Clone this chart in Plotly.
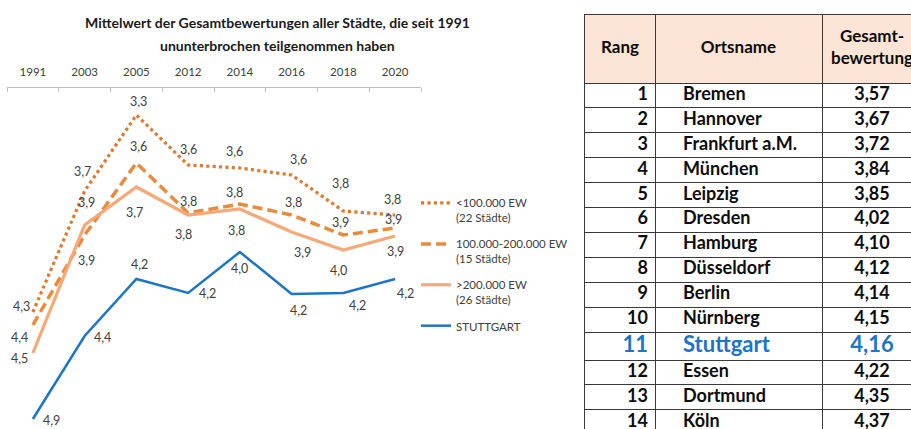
import plotly.graph_objects as go

# ---------------- data ----------------
years = ["1991", "2003", "2005", "2012", "2014", "2016", "2018", "2020"]
small_cities = [4.325, 3.72, 3.34, 3.59, 3.605, 3.64, 3.82, 3.84]
medium_cities = [4.39, 3.94, 3.58, 3.83, 3.785, 3.84, 3.94, 3.905]
large_cities = [4.53, 3.89, 3.70, 3.84, 3.81, 3.925, 4.015, 3.945]
stuttgart = [4.86, 4.445, 4.16, 4.23, 4.025, 4.235, 4.23, 4.16]

series_names = [
    "&lt;100.000 EW<br>(22 Städte)",
    "100.000-200.000 EW<br>(15 Städte)",
    "&gt;200.000 EW<br>(26 Städte)",
    "STUTTGART",
]

title_lines = [
    "Mittelwert der Gesamtbewertungen aller Städte, die seit 1991",
    "ununterbrochen teilgenommen haben",
]

ranks = list(range(1, 15))
cities = ["Bremen", "Hannover", "Frankfurt a.M.", "München", "Leipzig", "Dresden",
          "Hamburg", "Düsseldorf", "Berlin", "Nürnberg", "Stuttgart", "Essen",
          "Dortmund", "Köln"]
scores = [3.57, 3.67, 3.72, 3.84, 3.85, 4.02, 4.10, 4.12, 4.14, 4.15, 4.16,
          4.22, 4.35, 4.37]
highlight_city = "Stuttgart"
table_headers = ["Rang", "Ortsname", "Gesamt-<br>bewertung"]

# ---------------- styling ----------------
W, H = 911, 429
FONT = "Lato"
TXT = "#404040"
c_small = "#E0792E"
c_medium = "#E98B3E"
c_large = "#F6A878"
c_stg = "#1C75C8"
GRID = "#3a3a3a"

TABLE_LEFT, TABLE_TOP = 585, 15
COL_W = [70, 167, 100]
HEADER_H, ROW_H, HILITE_H = 68, 24.9, 28

# data-label offsets in pixels (dx, dy; dy positive = down), per point
off_small = [(-11, -6), (-2, -19), (2, -13), (0, -15), (-5, -16), (7, -15), (-3, -27), (-3, -15)]
off_medium = [(-13, 12), (2, -32), (2, -16), (0, -11), (-5, -11), (2, -12), (-3, -12), (-2, -8)]
off_large = [(-13, 5), (2, 35), (-2, 26), (-5, 20), (-3, 22), (11, 21), (-5, 20), (0, 16)]
off_stg = [(19, 1), (18, 1), (3, -15), (19, 0), (0, 16), (7, 16), (14, 12), (10, 14)]


def de(v, d=1):
    return f"{v:.{d}f}".replace(".", ",")


xpos = list(range(len(years)))  # category slots

fig = go.Figure()

specs = [
    (small_cities, series_names[0], dict(color=c_small, width=3.2, dash="dot"), off_small),
    (medium_cities, series_names[1], dict(color=c_medium, width=3.5, dash="10px,5px"), off_medium),
    (large_cities, series_names[2], dict(color=c_large, width=3.2), off_large),
    (stuttgart, series_names[3], dict(color=c_stg, width=2.5), off_stg),
]
for i, (vals, name, line, offs) in enumerate(specs):
    fig.add_trace(go.Scatter(
        x=xpos, y=vals, name=name, mode="lines",
        line=line, legendgroup=f"g{i}", hoverinfo="skip",
    ))
    for xp, v, (dx, dy) in zip(xpos, vals, offs):
        fig.add_annotation(
            x=xp, y=v, xref="x", yref="y", text=de(v), showarrow=False,
            xshift=dx, yshift=-dy, font=dict(family=FONT, size=12.5, color=TXT),
        )

# ---------------- table (drawn on its own axes) ----------------
col_edges = [0]
for w in COL_W:
    col_edges.append(col_edges[-1] + w)
col_centers = [(a + b) / 2 for a, b in zip(col_edges[:-1], col_edges[1:])]

row_heights = [HILITE_H if c == highlight_city else ROW_H for c in cities]
row_edges = [0, HEADER_H]
for h in row_heights:
    row_edges.append(row_edges[-1] + h)
row_centers = [(a + b) / 2 for a, b in zip(row_edges[1:-1], row_edges[2:])]

is_hi = [c == highlight_city for c in cities]
txt_colors = [c_stg if h else "#0d0d0d" for h in is_hi]
txt_sizes = [22 if h else 18 for h in is_hi]

# header
fig.add_trace(go.Scatter(
    x=col_centers, y=[HEADER_H / 2] * 3, mode="text",
    text=[f"<b>{h}</b>" for h in table_headers], textposition="middle center",
    textfont=dict(family=FONT, size=17, color="#0d0d0d"),
    xaxis="x2", yaxis="y2", showlegend=False, hoverinfo="skip", cliponaxis=True,
))
# rank column (right aligned)
fig.add_trace(go.Scatter(
    x=[col_edges[1] - 7] * len(ranks), y=row_centers, mode="text",
    text=[f"<b>{r}</b>" for r in ranks], textposition="middle left",
    textfont=dict(family=FONT, size=txt_sizes, color=txt_colors),
    xaxis="x2", yaxis="y2", showlegend=False, hoverinfo="skip", cliponaxis=True,
))
# city column (left aligned, indented)
fig.add_trace(go.Scatter(
    x=[col_edges[1] + 28] * len(cities), y=row_centers, mode="text",
    text=[f"<b>{c}</b>" for c in cities], textposition="middle right",
    textfont=dict(family=FONT, size=txt_sizes, color=txt_colors),
    xaxis="x2", yaxis="y2", showlegend=False, hoverinfo="skip", cliponaxis=True,
))
# score column (centered)
fig.add_trace(go.Scatter(
    x=[col_centers[2]] * len(scores), y=row_centers, mode="text",
    text=[f"<b>{de(s, 2)}</b>" for s in scores], textposition="middle center",
    textfont=dict(family=FONT, size=txt_sizes, color=txt_colors),
    xaxis="x2", yaxis="y2", showlegend=False, hoverinfo="skip", cliponaxis=True,
))

fig.add_shape(
    type="rect", xref="x2", yref="y2", x0=col_edges[0], x1=col_edges[-1],
    y0=row_edges[0], y1=row_edges[1], fillcolor="#FCE4D6",
    line=dict(width=0), layer="below",
)

table_w = W - TABLE_LEFT
table_h = H - TABLE_TOP

# ---------------- layout ----------------
fig.update_layout(
    width=W, height=H,
    margin=dict(l=0, r=0, t=0, b=0),
    paper_bgcolor="white", plot_bgcolor="white",
    font=dict(family=FONT, color=TXT),
    showlegend=True,
    legend=dict(
        x=416 / W, y=1 - 189 / H, xanchor="left", yanchor="top",
        font=dict(family=FONT, size=11.5, color=TXT),
        itemwidth=30, tracegroupgap=8, valign="top",
        bgcolor="rgba(0,0,0,0)",
    ),
    xaxis=dict(
        domain=[7 / W, 421 / W], side="top", type="linear",
        range=[-0.5, len(years) - 0.5], anchor="y",
        tickmode="array", tickvals=xpos, ticktext=years, ticks="",
        minor=dict(ticks="inside", tickmode="linear", tick0=0.5, dtick=1,
                   ticklen=4, tickcolor="#bfbfbf", showgrid=False),
        showline=True, linecolor="#bfbfbf", linewidth=1,
        showgrid=False, zeroline=False, fixedrange=True, automargin=False,
        tickfont=dict(family=FONT, size=11.5, color=TXT),
        ticklabelstandoff=6,
    ),
    yaxis=dict(
        domain=[0, 1 - 88 / H], range=[4.91, 3.205], anchor="x",
        showticklabels=False, ticks="", showline=False,
        showgrid=False, zeroline=False, fixedrange=True, automargin=False,
    ),
    xaxis2=dict(
        domain=[TABLE_LEFT / W, 1], range=[0, table_w], anchor="y2", side="top",
        tickvals=col_edges[1:], showgrid=True, gridcolor=GRID, gridwidth=1,
        showticklabels=False, ticks="", zeroline=False,
        showline=True, linecolor=GRID, linewidth=1,
        fixedrange=True, automargin=False,
    ),
    yaxis2=dict(
        domain=[0, 1 - TABLE_TOP / H], range=[table_h, 0], anchor="x2",
        tickvals=row_edges[1:], showgrid=True, gridcolor=GRID, gridwidth=1,
        showticklabels=False, ticks="", zeroline=False,
        showline=True, linecolor=GRID, linewidth=1, side="left",
        fixedrange=True, automargin=False,
    ),
)

for k, t in enumerate(title_lines):
    fig.add_annotation(
        text=f"<b>{t}</b>", xref="paper", yref="paper",
        x=277 / W, y=1 - (23 + 22 * k) / H, xanchor="center", yanchor="middle",
        showarrow=False, font=dict(family=FONT, size=14, color="#1a1a1a"),
    )

fig.write_html("out.html", config={"displayModeBar": False},
               post_script="document.body.style.margin='0';")
